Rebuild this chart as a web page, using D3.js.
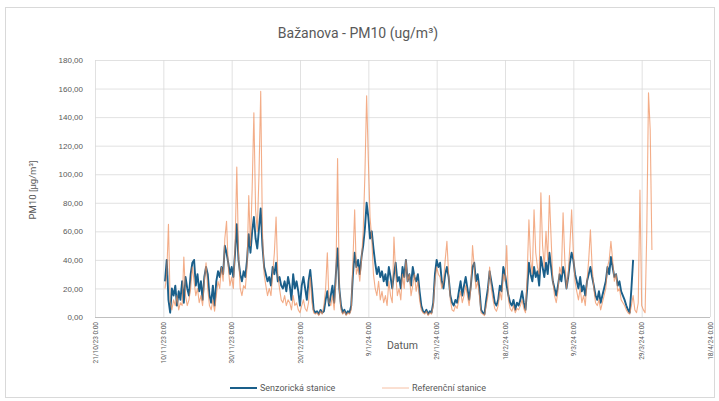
<!DOCTYPE html>
<html><head><meta charset="utf-8">
<script src="https://cdn.jsdelivr.net/npm/d3@7"></script>
<style>
html,body{margin:0;padding:0;background:#fff;}
svg{display:block;font-family:Roboto,"Open Sans",sans-serif;}
</style></head>
<body>
<svg id="c" width="719" height="401"></svg>
<script>
// ---- data (12-hour steps) ----
const title = "Bažanova - PM10 (ug/m³)";
const yTitle = "PM10 [µg/m³]";
const xTitle = "Datum";
const seriesNames = ["Senzorická stanice", "Referenční stanice"];
const xTickDates = ["2023-10-21","2023-11-10","2023-11-30","2023-12-20","2024-01-09","2024-01-29","2024-02-18","2024-03-09","2024-03-29","2024-04-18"];
const yTicks = [0,20,40,60,80,100,120,140,160,180];
const sensorStart = "2023-11-10T12:00:00Z";
const referenceStart = "2023-11-10T12:00:00Z";
const stepHours = 12;
const sensorValues = [
25,40,12,3,20,15,22,8,18,12,25,10,28,20,15,30,38,40,22,30,
18,25,12,28,35,30,15,10,22,8,25,32,28,35,30,50,45,38,30,35,
28,45,65,40,30,25,32,28,40,58,45,60,70,55,48,62,76,50,35,30,
25,28,22,35,30,38,25,28,22,20,25,18,28,22,12,30,20,25,18,8,
22,28,20,12,25,33,20,5,3,4,2,5,3,4,12,18,8,15,22,10,
30,48,20,8,3,5,2,4,3,8,30,45,35,40,30,42,50,62,80,70,
55,60,48,38,30,35,28,32,25,30,22,35,28,20,30,38,25,28,20,35,
28,40,25,30,22,35,28,25,30,18,8,4,3,5,2,4,3,10,30,40,
35,38,25,20,30,35,28,15,10,8,12,10,18,25,15,22,28,20,12,22,
35,38,25,30,20,5,3,2,12,20,32,25,18,10,8,12,22,18,35,30,
22,15,10,8,12,5,10,8,12,18,10,5,20,38,30,25,35,28,32,22,
42,35,28,38,30,45,35,25,20,15,22,30,25,35,30,20,28,38,45,40,
30,25,20,28,18,22,15,25,30,35,28,22,15,12,18,10,15,20,25,35,
30,42,35,28,30,22,25,18,15,12,8,5,3,20,40
];
const referenceValues = [
20,30,65,10,5,12,8,15,5,10,8,42,15,8,12,20,35,25,15,20,
10,15,8,25,38,20,8,5,12,4,15,25,20,35,25,55,67,35,22,28,
20,50,105,45,20,15,22,20,35,85,50,90,143,75,60,100,158,60,30,22,
15,20,15,30,45,70,30,20,12,10,15,8,12,10,5,15,8,10,5,3,
8,12,6,4,10,28,10,3,2,3,1,4,2,8,20,45,10,8,15,5,
25,111,20,5,2,4,1,3,2,5,40,75,30,35,25,40,60,100,155,110,
70,55,30,20,15,25,12,18,10,15,8,25,15,10,56,30,15,20,12,30,
20,40,25,30,15,22,30,18,25,12,5,3,2,4,1,3,2,8,25,35,
30,28,20,25,40,53,30,12,5,4,8,6,12,18,10,15,22,15,8,20,
50,35,20,25,15,3,2,1,8,15,35,20,12,6,4,8,18,12,30,25,
50,12,6,4,8,3,6,5,8,12,6,3,30,68,40,30,75,45,35,30,
87,50,35,60,40,85,55,25,15,10,18,35,30,73,40,20,30,50,75,45,
25,18,12,20,10,15,8,25,40,61,35,20,10,8,12,5,10,15,20,35,
40,53,40,25,30,18,20,12,10,8,5,3,2,8,15,5,3,10,89,8,5,3,60,157,131,47
];

// ---- chart ----
const svg = d3.select("#c");
const plot = {left: 95, right: 710, top: 60, bottom: 317};
const textColor = "#595959";
const gridColor = "#d9d9d9";
const blue = "#1a5f8a", orange = "#ee8a55";

svg.append("rect").attr("x",5.5).attr("y",7.5).attr("width",709).attr("height",390)
  .attr("fill","#fff").attr("stroke","#d9d9d9").attr("stroke-width",1);

const x = d3.scaleUtc()
  .domain([new Date(xTickDates[0]+"T00:00:00Z"), new Date(xTickDates[xTickDates.length-1]+"T00:00:00Z")])
  .range([plot.left, plot.right]);
const y = d3.scaleLinear().domain([0,180]).range([plot.bottom, plot.top]);

const toSeries = (start, vals) => {
  const t0 = new Date(start).getTime();
  return vals.map((v,i) => ({t: new Date(t0 + i*stepHours*3600e3), v}));
};
const sensor = toSeries(sensorStart, sensorValues);
const reference = toSeries(referenceStart, referenceValues);

// gridlines
const tickDates = xTickDates.map(s => new Date(s+"T00:00:00Z"));
svg.append("g").attr("transform",`translate(0,${plot.bottom})`)
  .call(d3.axisBottom(x).tickValues(tickDates).tickSize(-(plot.bottom-plot.top)).tickFormat(""))
  .call(g => g.select(".domain").remove())
  .call(g => g.selectAll("line").attr("stroke",gridColor).attr("stroke-width",0.8));
svg.append("g").attr("transform",`translate(${plot.left},0)`)
  .call(d3.axisLeft(y).tickValues(yTicks).tickSize(-(plot.right-plot.left)).tickPadding(12)
    .tickFormat(d => d3.format(".2f")(d).replace(".", ",")))
  .call(g => g.select(".domain").remove())
  .call(g => g.selectAll("line").attr("stroke",gridColor).attr("stroke-width",0.8))
  .call(g => g.selectAll("text").attr("fill",textColor).attr("font-size","8px"));
svg.append("line").attr("x1",plot.left).attr("x2",plot.right).attr("y1",plot.bottom+0.5).attr("y2",plot.bottom+0.5)
  .attr("stroke","#bfbfbf").attr("stroke-width",1);

// x tick labels (rotated)
const fmt = d3.utcFormat("%-d/%-m/%y %-H:%M");
svg.append("g").selectAll("text").data(tickDates).join("text")
  .attr("transform", d => `translate(${x(d)+2.5},${plot.bottom+5}) rotate(-90)`)
  .attr("text-anchor","end").attr("fill",textColor).attr("font-size","6.5px")
  .text(d => fmt(d));

// lines
const line = d3.line().x(d => x(d.t)).y(d => y(d.v));
svg.append("path").datum(sensor).attr("d",line).attr("fill","none")
  .attr("stroke",blue).attr("stroke-width",1.9).attr("stroke-linejoin","round");
svg.append("path").datum(reference).attr("d",line).attr("fill","none")
  .attr("stroke",orange).attr("stroke-width",1.1).attr("stroke-opacity",0.7).attr("stroke-linejoin","round");

// titles
svg.append("text").attr("x",358).attr("y",38).attr("text-anchor","middle")
  .attr("fill",textColor).attr("font-size","14px").text(title);
svg.append("text").attr("transform","translate(36,190) rotate(-90)").attr("text-anchor","middle")
  .attr("fill",textColor).attr("font-size","9.5px").text(yTitle);
svg.append("text").attr("x",(plot.left+plot.right)/2).attr("y",349).attr("text-anchor","middle")
  .attr("fill",textColor).attr("font-size","10.5px").text(xTitle);

// legend
const legend = [{name: seriesNames[0], color: blue, w: 2, op: 1, x: 230},
                {name: seriesNames[1], color: orange, w: 0.9, op: 0.6, x: 382}];
const lg = svg.append("g").selectAll("g").data(legend).join("g")
  .attr("transform", d => `translate(${d.x},388)`);
lg.append("line").attr("x1",0).attr("x2",27).attr("y1",0).attr("y2",0)
  .attr("stroke", d => d.color).attr("stroke-width", d => d.w).attr("stroke-opacity", d => d.op);
lg.append("text").attr("x",30).attr("y",3).attr("fill",textColor).attr("font-size","9px").text(d => d.name);
</script>
</body></html>
